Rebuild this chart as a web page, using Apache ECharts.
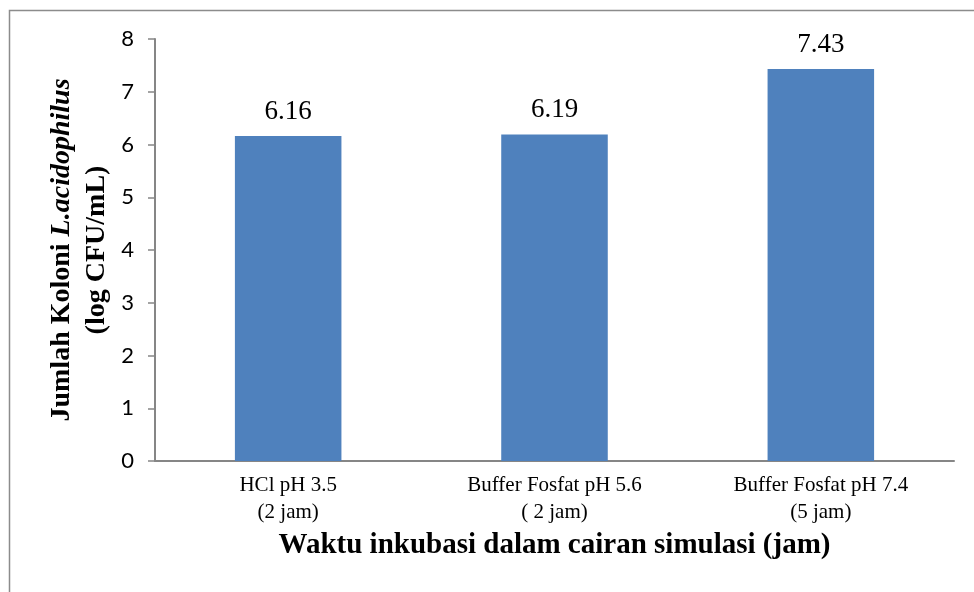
<!DOCTYPE html>
<html>
<head>
<meta charset="utf-8">
<script src="https://cdn.jsdelivr.net/npm/echarts@6/dist/echarts.min.js"></script>
<style>
  html, body { margin: 0; padding: 0; background: #fff; }
  #chart { width: 974px; height: 592px; }
</style>
</head>
<body>
<div id="chart"></div>
<script>
var categories = ['HCl pH 3.5\n(2 jam)', 'Buffer Fosfat pH 5.6\n( 2 jam)', 'Buffer Fosfat pH 7.4\n(5 jam)'];
var colonyLog = [6.16, 6.19, 7.43];
var yTicks = [0, 1, 2, 3, 4, 5, 6, 7, 8];

var chart = echarts.init(document.getElementById('chart'));

var option = {
    backgroundColor: '#fff',
    animation: false,
    graphic: [{
        type: 'rect',
        shape: { x: 9.5, y: 10.5, width: 1000, height: 620 },
        style: { fill: 'none', stroke: '#8c8c8c', lineWidth: 1.5 },
        silent: true
    }],
    grid: {
        left: 155,
        top: 39,
        right: 20,
        bottom: 131
    },
    xAxis: {
        type: 'category',
        data: categories,
        axisLine: { lineStyle: { color: '#868686', width: 2 } },
        axisTick: { show: false },
        axisLabel: {
            color: '#000',
            fontFamily: 'Liberation Serif',
            fontSize: 21,
            lineHeight: 27,
            margin: 11
        },
        name: 'Waktu inkubasi dalam cairan simulasi (jam)',
        nameLocation: 'middle',
        nameGap: 70,
        nameTextStyle: {
            color: '#000',
            fontFamily: 'Liberation Serif',
            fontWeight: 'bold',
            fontSize: 29
        }
    },
    yAxis: {
        type: 'value',
        min: yTicks[0],
        max: yTicks[yTicks.length - 1],
        interval: 1,
        splitLine: { show: false },
        axisLine: { show: true, lineStyle: { color: '#868686', width: 2 } },
        axisTick: { show: true, length: 7, lineStyle: { color: '#868686', width: 1.5 } },
        axisLabel: {
            color: '#000',
            fontFamily: 'Lato',
            fontSize: 22,
            margin: 21
        },
        name: '{b|Jumlah Koloni }{i|L.acidophilus}\n{b|(log CFU/mL)}',
        nameLocation: 'middle',
        nameRotate: 90,
        nameGap: 41,
        nameTextStyle: {
            align: 'center',
            rich: {
                b: {
                    color: '#000',
                    fontFamily: 'Liberation Serif',
                    fontWeight: 'bold',
                    fontSize: 28,
                    lineHeight: 35
                },
                i: {
                    color: '#000',
                    fontFamily: 'Liberation Serif',
                    fontWeight: 'bold',
                    fontStyle: 'italic',
                    fontSize: 28,
                    lineHeight: 35
                }
            }
        }
    },
    series: [{
        type: 'bar',
        data: colonyLog,
        barWidth: '40%',
        itemStyle: { color: '#4f81bd' },
        label: {
            show: true,
            position: 'top',
            distance: 11,
            color: '#000',
            fontFamily: 'Liberation Serif',
            fontSize: 27,
            formatter: function (p) { return p.value.toFixed(2); }
        }
    }]
};

chart.setOption(option);
</script>
</body>
</html>
